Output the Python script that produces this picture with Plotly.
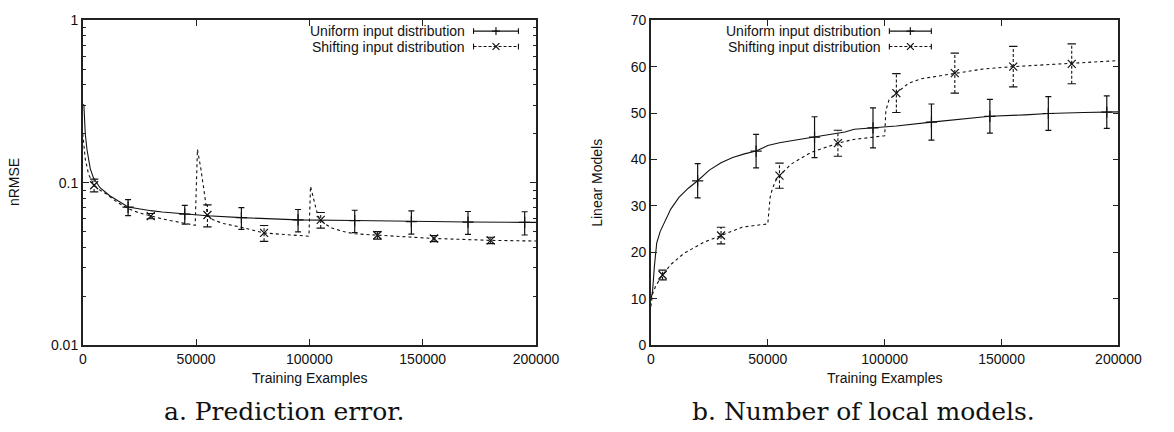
import plotly.graph_objects as go

W, H = 1174, 432

# ---------------- prediction error (nRMSE, log scale) ----------------
err_uni_curve_x = [0, 500, 1100, 1850, 3300, 4700, 7600, 11900, 20000, 25000, 30000, 35000,
                   45000, 55000, 70000, 95000, 120000, 145000, 170000, 195000, 200000]
err_uni_curve_y = [0.303, 0.30, 0.20, 0.16, 0.122, 0.107, 0.093, 0.083, 0.0707, 0.0688, 0.0672,
                   0.066, 0.064, 0.0625, 0.0609, 0.059, 0.0584, 0.0576, 0.0572, 0.0569, 0.0569]

err_shift_curve_x = [0, 1100, 2600, 5000, 7500, 10500, 15000, 20000, 25000, 30000, 35000, 40600,
                     45000, 49600, 50600, 52100, 53500, 55000, 57500, 62000, 69000, 75000, 80000,
                     90000, 99800, 100500, 101700, 103100, 104500, 107500, 110000, 115000, 120000,
                     130000, 140000, 155000, 170000, 180000, 200000]
err_shift_curve_y = [0.20, 0.14, 0.112, 0.0964, 0.09, 0.085, 0.076, 0.0692, 0.065, 0.0622, 0.0598,
                     0.0577, 0.0562, 0.0546, 0.160, 0.122, 0.089, 0.0632, 0.059, 0.056, 0.0535,
                     0.051, 0.049, 0.0478, 0.0468, 0.095, 0.081, 0.0676, 0.0595, 0.055, 0.0525,
                     0.050, 0.0484, 0.0474, 0.0466, 0.0453, 0.0446, 0.0441, 0.0437]

err_uni_pts_x = [20000, 45000, 70000, 95000, 120000, 145000, 170000, 195000]
err_uni_pts_y = [0.0707, 0.064, 0.0609, 0.059, 0.0584, 0.0576, 0.0572, 0.0569]
err_uni_pts_e = [0.008, 0.0085, 0.0093, 0.0093, 0.0092, 0.0094, 0.0092, 0.0093]

err_shift_pts_x = [5000, 30000, 55000, 80000, 105000, 130000, 155000, 180000]
err_shift_pts_y = [0.0964, 0.0622, 0.0632, 0.049, 0.059, 0.0474, 0.0453, 0.0441]
err_shift_pts_e = [0.0087, 0.0023, 0.0098, 0.0055, 0.0065, 0.0025, 0.002, 0.002]

# ---------------- number of local models ----------------
lm_uni_curve_x = [0, 700, 1500, 2500, 4000, 6000, 8500, 12000, 16000, 20000, 25000, 30000, 35000,
                  40000, 45000, 50000, 55000, 62000, 70000, 76000, 80000, 83000, 87000, 95000,
                  105000, 120000, 130000, 145000, 160000, 170000, 185000, 195000, 200000]
lm_uni_curve_y = [9.8, 11.5, 17.0, 22.0, 24.5, 26.8, 29.3, 31.8, 33.8, 35.4, 37.7, 39.3, 40.4,
                  41.2, 41.8, 43.0, 43.6, 44.2, 44.8, 45.4, 45.6, 45.9, 46.5, 46.8, 47.2, 48.05,
                  48.6, 49.3, 49.6, 49.9, 50.1, 50.2, 50.25]

lm_shift_curve_x = [0, 700, 2100, 5000, 8400, 14000, 22400, 30000, 39100, 45000, 50000, 50500,
                    51000, 51700, 53100, 55000, 60000, 68400, 80000, 86600, 92000, 100000, 100500,
                    101900, 105000, 110200, 115800, 124200, 130000, 142200, 155000, 165000,
                    180000, 200000]
lm_shift_curve_y = [8.3, 11.0, 12.8, 15.1, 17.3, 19.7, 22.1, 23.6, 25.4, 25.8, 26.1, 29.0, 31.8,
                    33.2, 35.2, 36.5, 39.0, 41.5, 43.5, 44.3, 44.6, 45.1, 50.5, 52.9, 54.3, 56.4,
                    57.4, 58.1, 58.6, 59.5, 60.0, 60.3, 60.6, 61.3]

lm_uni_pts_x = [20000, 45000, 70000, 95000, 120000, 145000, 170000, 195000]
lm_uni_pts_y = [35.4, 41.8, 44.8, 46.8, 48.05, 49.3, 49.9, 50.2]
lm_uni_pts_e = [3.7, 3.6, 4.4, 4.3, 3.9, 3.65, 3.65, 3.5]

lm_shift_pts_x = [5000, 30000, 55000, 80000, 105000, 130000, 155000, 180000]
lm_shift_pts_y = [15.1, 23.6, 36.5, 43.5, 54.3, 58.6, 60.0, 60.6]
lm_shift_pts_e = [1.05, 1.8, 2.7, 2.8, 4.2, 4.3, 4.37, 4.3]

x_ticks = [0, 50000, 100000, 150000, 200000]
legend_names = ["Uniform input distribution", "Shifting input distribution"]
x_title = "Training Examples"
y_titles = ["nRMSE", "Linear Models"]
captions = ["a. Prediction error.", "b. Number of local models."]

FONT = "Liberation Sans"
INK = "#111"
DASH = "3px,3px"


def px(x):
    return x / W


def py(y):
    return 1 - y / H


fig = go.Figure()


def add_series(xa, ya, ux, uy, upx, upy, upe, sx, sy, spx, spy, spe):
    # uniform: solid curve, "+" points with solid error bars
    fig.add_trace(go.Scatter(x=ux, y=uy, mode="lines", xaxis=xa, yaxis=ya,
                             line=dict(color=INK, width=1.1), showlegend=False))
    fig.add_trace(go.Scatter(x=upx, y=upy, mode="markers", xaxis=xa, yaxis=ya,
                             marker=dict(symbol="cross-thin", size=8,
                                         line=dict(color=INK, width=1.2)),
                             error_y=dict(type="data", array=upe, visible=True,
                                          color=INK, thickness=1.2, width=3),
                             showlegend=False))
    # shifting: dashed curve, "x" points with dashed error bars
    fig.add_trace(go.Scatter(x=sx, y=sy, mode="lines", xaxis=xa, yaxis=ya,
                             line=dict(color=INK, width=1.1, dash=DASH), showlegend=False))
    bx, by = [], []
    for xv, yv, ev in zip(spx, spy, spe):
        bx += [xv, xv, None]
        by += [yv - ev, yv + ev, None]
    fig.add_trace(go.Scatter(x=bx, y=by, mode="lines", xaxis=xa, yaxis=ya,
                             line=dict(color=INK, width=1.1, dash="3px,2px"),
                             showlegend=False))
    cx, cy = [], []
    for xv, yv, ev in zip(spx, spy, spe):
        cx += [xv, xv]
        cy += [yv - ev, yv + ev]
    fig.add_trace(go.Scatter(x=cx, y=cy, mode="markers", xaxis=xa, yaxis=ya,
                             marker=dict(symbol="line-ew", size=6,
                                         line=dict(color=INK, width=1.1)),
                             showlegend=False))
    fig.add_trace(go.Scatter(x=spx, y=spy, mode="markers", xaxis=xa, yaxis=ya,
                             marker=dict(symbol="x-thin", size=8,
                                         line=dict(color=INK, width=1.2)),
                             showlegend=False))


add_series("x", "y", err_uni_curve_x, err_uni_curve_y, err_uni_pts_x, err_uni_pts_y,
           err_uni_pts_e, err_shift_curve_x, err_shift_curve_y, err_shift_pts_x,
           err_shift_pts_y, err_shift_pts_e)
add_series("x2", "y2", lm_uni_curve_x, lm_uni_curve_y, lm_uni_pts_x, lm_uni_pts_y,
           lm_uni_pts_e, lm_shift_curve_x, lm_shift_curve_y, lm_shift_pts_x,
           lm_shift_pts_y, lm_shift_pts_e)

tickfont = dict(family=FONT, size=14, color=INK)
common = dict(showline=True, linecolor="#222", linewidth=1.6, mirror="ticks",
              ticks="inside", ticklen=6, tickwidth=1, tickcolor="#222",
              showgrid=False, zeroline=False, tickfont=tickfont)

left_dom = [px(80.7), px(545)]
right_dom = [px(662.7), px(1141.7)]
y_dom = [py(350), py(12.7)]

fig.update_layout(
    width=W, height=H, autosize=False,
    margin=dict(l=0, r=0, t=0, b=0),
    paper_bgcolor="white", plot_bgcolor="white",
    xaxis=dict(domain=left_dom, range=[0, 200000], tickvals=x_ticks, tickformat="d",
               anchor="y", **common),
    yaxis=dict(domain=y_dom, type="log", range=[-2, 0], dtick=1, anchor="x",
               minor=dict(ticks="inside", ticklen=3, tickcolor="#222", dtick="D1",
                          showgrid=False),
               **common),
    xaxis2=dict(domain=right_dom, range=[0, 200000], tickvals=x_ticks, tickformat="d",
                anchor="y2", **common),
    yaxis2=dict(domain=y_dom, range=[0, 70], dtick=10, anchor="x2", **common),
)

annotations = []
shapes = []
label_font = dict(family=FONT, size=14, color=INK)

# axis titles
for cx_px in [(80.7 + 545) / 2, (662.7 + 1141.7) / 2]:
    annotations.append(dict(xref="paper", yref="paper", x=px(cx_px), y=py(384),
                            text=x_title, showarrow=False, font=label_font,
                            xanchor="center", yanchor="middle"))
for cx_px, t in zip([11, 608], y_titles):
    annotations.append(dict(xref="paper", yref="paper", x=px(cx_px), y=py(181),
                            text=t, showarrow=False, font=label_font, textangle=-90,
                            xanchor="center", yanchor="middle"))
# captions
for cx_px, t in zip([287, 881], captions):
    annotations.append(dict(xref="paper", yref="paper", x=px(cx_px), y=py(419),
                            text=t, showarrow=False,
                            font=dict(family="DejaVu Serif", size=25, color=INK),
                            xanchor="center", yanchor="middle"))

# key boxes: text right-aligned, then a sample line with end caps and the point symbol
def add_key(text_right, s0, s1, rows):
    for row_y, name, dashed, sym in zip(rows, legend_names, [False, True], ["+", "x"]):
        annotations.append(dict(xref="paper", yref="paper", x=px(text_right), y=py(row_y),
                                text=name, showarrow=False, font=label_font,
                                xanchor="right", yanchor="middle"))
        line = dict(color=INK, width=1.1)
        if dashed:
            line = dict(color=INK, width=1.1, dash="3px,2px")
        shapes.append(dict(type="line", xref="paper", yref="paper",
                           x0=px(s0), x1=px(s1), y0=py(row_y), y1=py(row_y), line=line))
        for e in (s0, s1):
            shapes.append(dict(type="line", xref="paper", yref="paper",
                               x0=px(e), x1=px(e), y0=py(row_y - 3), y1=py(row_y + 3),
                               line=dict(color=INK, width=1.1)))
        m = (s0 + s1) / 2
        if sym == "+":
            segs = [(m - 4, row_y, m + 4, row_y), (m, row_y - 4, m, row_y + 4)]
        else:
            segs = [(m - 3.5, row_y - 3.5, m + 3.5, row_y + 3.5),
                    (m - 3.5, row_y + 3.5, m + 3.5, row_y - 3.5)]
        for a, b, c, d in segs:
            shapes.append(dict(type="line", xref="paper", yref="paper",
                               x0=px(a), y0=py(b), x1=px(c), y1=py(d),
                               line=dict(color=INK, width=1.2)))


add_key(474, 481, 527, [24, 40])
add_key(900, 907, 950, [24, 40])

fig.update_layout(annotations=annotations, shapes=shapes)
fig.write_html("out.html")
